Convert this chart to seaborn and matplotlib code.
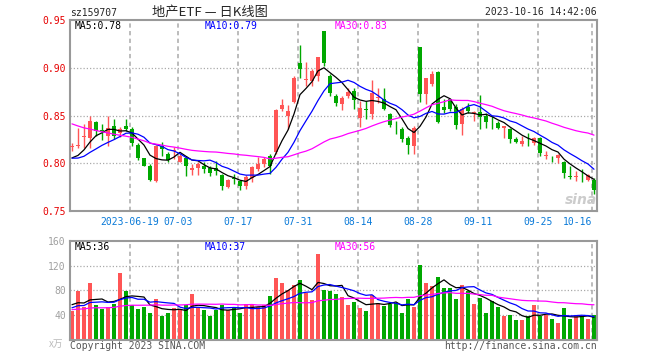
import numpy as np
import pandas as pd
import matplotlib
matplotlib.use("Agg")
import matplotlib.pyplot as plt
import seaborn as sns

# daily K data, 2023-06-05 .. 2023-10-16 (88 trading days)
opens = [0.817, 0.818, 0.828, 0.826, 0.843, 0.8345, 0.829, 0.839, 0.8314, 0.839,
         0.8355, 0.819, 0.805, 0.7976, 0.781, 0.8183, 0.8096, 0.8135, 0.8017, 0.8055,
         0.7934, 0.7948, 0.7976, 0.7948, 0.795, 0.7882, 0.775, 0.7847, 0.7809, 0.7767,
         0.7844, 0.7941, 0.7993, 0.808, 0.8115, 0.8566, 0.849, 0.8642, 0.9052, 0.8875,
         0.8858, 0.8913, 0.9389, 0.8913, 0.8705, 0.8618, 0.8705, 0.8757, 0.8469, 0.8568,
         0.8514, 0.8688, 0.867, 0.8514, 0.8402, 0.8358, 0.8264, 0.8184, 0.9215, 0.8722,
         0.8826, 0.8958, 0.8594, 0.867, 0.8594, 0.841, 0.859, 0.8525, 0.8535, 0.85,
         0.8455, 0.8417, 0.8372, 0.8362, 0.8258, 0.82, 0.8214, 0.8217, 0.8269, 0.8077,
         0.8047, 0.8052, 0.801, 0.7864, 0.7857, 0.7848, 0.7827, 0.7827]
highs = [0.821, 0.837, 0.841, 0.849, 0.844, 0.8407, 0.849, 0.846, 0.8375, 0.846,
         0.8375, 0.8217, 0.806, 0.7993, 0.819, 0.8224, 0.812, 0.817, 0.8096, 0.808,
         0.7993, 0.801, 0.8017, 0.7976, 0.8028, 0.789, 0.7835, 0.7889, 0.7815, 0.7872,
         0.7976, 0.8063, 0.8063, 0.8097, 0.857, 0.867, 0.8608, 0.8913, 0.9243, 0.9059,
         0.899, 0.9115, 0.9389, 0.8931, 0.8722, 0.8705, 0.8792, 0.8792, 0.8653, 0.8653,
         0.8868, 0.8792, 0.8792, 0.8524, 0.8444, 0.8375, 0.8281, 0.8392, 0.9215, 0.8896,
         0.8965, 0.8965, 0.867, 0.8688, 0.8618, 0.859, 0.8631, 0.8545, 0.8717, 0.8528,
         0.85, 0.8441, 0.839, 0.8372, 0.8279, 0.8286, 0.8321, 0.8279, 0.8279, 0.8131,
         0.8079, 0.8096, 0.8027, 0.7969, 0.7914, 0.7941, 0.7889, 0.7848]
lows = [0.813, 0.816, 0.8155, 0.8155, 0.829, 0.8245, 0.818, 0.825, 0.8276, 0.8335,
        0.818, 0.8037, 0.797, 0.781, 0.780, 0.8079, 0.801, 0.804, 0.801, 0.787,
        0.7876, 0.7876, 0.79, 0.7865, 0.7872, 0.7715, 0.7745, 0.7785, 0.7715, 0.7733,
        0.7802, 0.7924, 0.7958, 0.7889, 0.81, 0.855, 0.8358, 0.8635, 0.8889, 0.8809,
        0.8809, 0.8861, 0.9017, 0.8705, 0.8601, 0.8559, 0.8688, 0.8566, 0.8375, 0.8462,
        0.8462, 0.8635, 0.8559, 0.8375, 0.8306, 0.8226, 0.8097, 0.8097, 0.8642, 0.8618,
        0.8809, 0.842, 0.8524, 0.8549, 0.8358, 0.830, 0.8528, 0.8441, 0.8362, 0.8372,
        0.8362, 0.8355, 0.8269, 0.8217, 0.821, 0.8176, 0.8183, 0.819, 0.8072, 0.8045,
        0.8017, 0.8003, 0.7845, 0.7838, 0.781, 0.7803, 0.781, 0.7682]
closes = [0.818, 0.819, 0.829, 0.844, 0.834, 0.8335, 0.837, 0.8286, 0.8356, 0.8355,
          0.8217, 0.805, 0.7976, 0.7827, 0.8176, 0.8148, 0.8034, 0.8141, 0.8072, 0.7969,
          0.7952, 0.7993, 0.7941, 0.79, 0.792, 0.776, 0.7826, 0.784, 0.7767, 0.7854,
          0.7958, 0.7993, 0.8045, 0.7976, 0.8556, 0.8608, 0.8549, 0.8889, 0.899, 0.888,
          0.8962, 0.9115, 0.9052, 0.8733, 0.8635, 0.8688, 0.8747, 0.866, 0.8583, 0.8563,
          0.8733, 0.8698, 0.8573, 0.8399, 0.8399, 0.8253, 0.8191, 0.8368, 0.8722, 0.8889,
          0.8931, 0.8434, 0.8559, 0.8566, 0.8399, 0.857, 0.8545, 0.853, 0.8486, 0.8431,
          0.8452, 0.8372, 0.839, 0.8252, 0.8224, 0.8234, 0.821, 0.8269, 0.8107, 0.8082,
          0.8043, 0.8086, 0.7896, 0.786, 0.7866, 0.7843, 0.7872, 0.7717]
# volume, unit: 万
volumes = [45.5, 78, 53, 91, 56, 49, 53, 58, 108, 78,
           55, 49, 53, 43, 65, 38, 43, 50, 47, 55,
           73, 51, 47, 38, 48, 55, 48, 53, 43, 58,
           56, 53, 55, 70, 99, 91, 80, 89, 96, 75,
           63, 139, 80, 78, 73, 68, 55, 61, 50, 46.5,
           72.6, 59.6, 53.6, 58, 59, 43, 66, 53, 121, 91,
           86, 101, 84, 83, 65, 89, 78, 57, 67, 43,
           62, 52, 38, 39, 31, 31, 38, 56, 38, 40,
           33, 27, 51, 32, 37, 37, 32, 40]

# days before 06-05, only used to warm up the moving averages
prior_closes = [0.885, 0.888, 0.882, 0.879, 0.875, 0.872, 0.868, 0.870, 0.864, 0.860,
                0.857, 0.853, 0.855, 0.849, 0.845, 0.842, 0.838, 0.840, 0.834, 0.828,
                0.818, 0.810, 0.803, 0.798, 0.796, 0.806, 0.800, 0.803, 0.801]
prior_volumes = [52, 44, 48, 39, 55, 47, 42, 50, 46, 38,
                 53, 49, 41, 45, 58, 44, 40, 47, 43, 49,
                 44, 50, 41, 52, 43, 62, 55, 66, 52]

tick_days = [10, 18, 28, 38, 48, 58, 68, 78, 87]
tick_labels = ["2023-06-19", "07-03", "07-17", "07-31", "08-14",
               "08-28", "09-11", "09-25", "10-16"]

RED = "#ff5555"
GREEN = "#00a800"
GRID = "#aaaaaa"
FRAME = "#999999"

sns.set_style("white")
plt.rcParams["font.family"] = ["DejaVu Sans Mono"]

df = pd.DataFrame({"day": np.arange(len(closes)), "open": opens, "high": highs,
                   "low": lows, "close": closes, "vol": volumes})
df["dir"] = np.where(df["close"] >= df["open"], "up", "down")
k = len(prior_closes)
c_all = pd.Series(prior_closes + closes)
v_all = pd.Series(prior_volumes + volumes)
for w in (5, 10, 30):
    df[f"ma{w}"] = c_all.rolling(w).mean().iloc[k:].values
    df[f"vma{w}"] = v_all.rolling(w).mean().iloc[k:].values

W, H = 660, 360
fig = plt.figure(figsize=(W / 100, H / 100), dpi=100)

def box(l, t, r, b):
    return [l / W, 1 - b / H, (r - l) / W, (b - t) / H]

ax1 = fig.add_axes(box(70, 20, 597, 211))
ax2 = fig.add_axes(box(70, 241, 597, 340))

colors = np.where(df["dir"] == "up", RED, GREEN)

# --- K line ---
ax1.vlines(df["day"], df["low"], df["high"], colors=colors, lw=1, zorder=2)
body_h = np.maximum((df["close"] - df["open"]).abs(), 0.0009)
body_mid = (df["close"] + df["open"]) / 2
ax1.bar(df["day"], body_h, bottom=body_mid - body_h / 2, width=0.8,
        color=colors, lw=0, zorder=3)
for col, c in (("ma5", "black"), ("ma10", "#0000ff"), ("ma30", "#ff00ff")):
    sns.lineplot(data=df, x="day", y=col, color=c, lw=0.9, ax=ax1, zorder=4)

# --- volume ---
ax2.bar(df["day"], df["vol"], width=0.8, color=colors, lw=0, zorder=2)
for col, c in (("vma5", "black"), ("vma10", "#0000ff"), ("vma30", "#ff00ff")):
    sns.lineplot(data=df, x="day", y=col, color=c, lw=0.9, ax=ax2, zorder=4)

grid_x = [d - 0.33 for d in tick_days]
for ax in (ax1, ax2):
    ax.set_xlim(-0.33, len(closes) - 0.5)
    ax.set_xlabel("")
    ax.set_ylabel("")
    for x in grid_x:
        ax.axvline(x, color=GRID, lw=1.1, ls=(0, (2.8, 2.2)), zorder=0)
    for s in ax.spines.values():
        s.set_color(FRAME)
        s.set_linewidth(1.5)
        s.set_visible(True)

ax1.set_ylim(0.75, 0.95)
for y in (0.80, 0.85, 0.90):
    ax1.axhline(y, color=GRID, lw=0.9, ls=(0, (1, 1.6)), zorder=0)
ax1.set_yticks([0.75, 0.80, 0.85, 0.90, 0.95], ["0.75", "0.80", "0.85", "0.90", "0.95"])
ax1.set_xticks(grid_x, tick_labels)
ax1.xaxis.get_ticklabels()[-1].set_ha("right")
ax1.tick_params(axis="y", length=0, pad=3, labelsize=7, labelcolor="#e60000")
ax1.tick_params(axis="x", length=0, pad=4, labelsize=7, labelcolor="#0a7ad8")

ax2.set_ylim(-1.5, 160)
for y in (40, 80, 120):
    ax2.axhline(y, color=GRID, lw=0.9, ls=(0, (1, 1.6)), zorder=0)
ax2.set_yticks([40, 80, 120, 160], ["40", "80", "120", "160"])
ax2.set_xticks([])
ax2.tick_params(axis="y", length=0, pad=3, labelsize=7, labelcolor="#a0a0a0")

def ftext(x, y, s, **kw):
    kw.setdefault("fontsize", 7)
    kw.setdefault("va", "center")
    fig.text(x / W, 1 - y / H, s, **kw)

last = df.iloc[-1]
ftext(70, 13, "sz159707")
ftext(210, 12, "地产ETF — 日K线图", fontsize=9.5, ha="center",
      family=["Noto Sans CJK SC", "DejaVu Sans"])
ftext(597, 12, "2023-10-16 14:42:06", ha="right")
ftext(75, 26, f"MA5:{last['ma5']:.2f}", color="black")
ftext(205, 26, f"MA10:{last['ma10']:.2f}", color="#0000ff")
ftext(335, 26, f"MA30:{last['ma30']:.2f}", color="#ff00ff")
ftext(75, 247, f"MA5:{last['vma5']:.0f}", color="black")
ftext(205, 247, f"MA10:{last['vma10']:.0f}", color="#0000ff")
ftext(335, 247, f"MA30:{last['vma30']:.0f}", color="#ff00ff")
ftext(56, 344, "x万", color="#bbbbbb", ha="center", family=["Noto Sans CJK SC", "DejaVu Sans"])
ftext(70, 346, "Copyright 2023 SINA.COM", color="#555555")
ftext(597, 346, "http://finance.sina.com.cn", color="#555555", ha="right")
ftext(581, 200, "sina", color="#cccccc", ha="center", fontsize=10,
      fontweight="bold", style="italic", family=["DejaVu Sans"])

fig.savefig("out.png", dpi=100, facecolor="white")
